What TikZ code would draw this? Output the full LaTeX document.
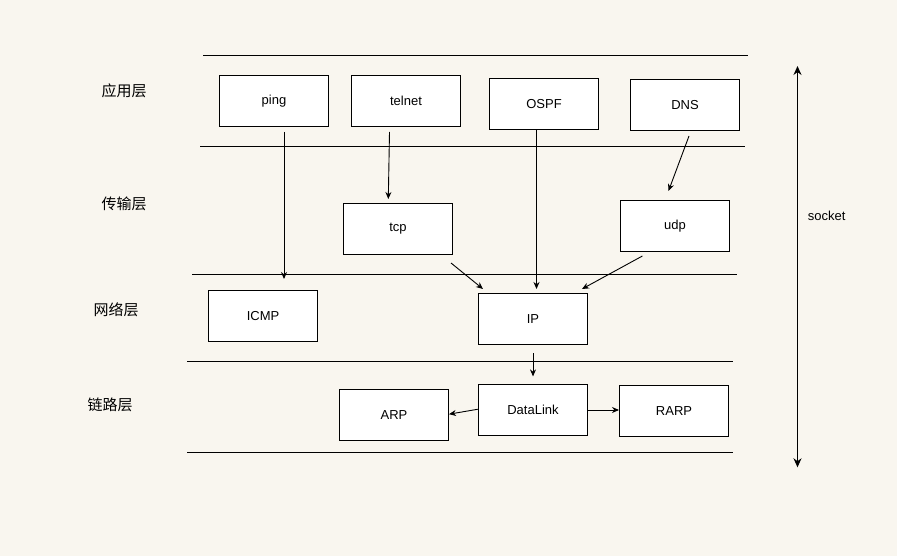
\documentclass[tikz,border=0pt]{standalone}
\usepackage{fontspec}
\setmainfont{Liberation Sans}
\newfontfamily\cjk{Noto Sans CJK SC}
\usetikzlibrary{arrows.meta}
\definecolor{bgcol}{HTML}{F9F6EF}
\tikzset{
  layerbox/.style={draw=black, fill=white, line width=1pt, minimum width=109pt, minimum height=51pt, inner sep=0pt, font=\fontsize{13pt}{15pt}\selectfont},
  layerlabel/.style={font=\cjk\fontsize{15pt}{17pt}\selectfont, inner sep=0pt},
  sepline/.style={line width=1pt},
  arr/.style={line width=0.9pt, -{Stealth[length=7pt,width=6pt]}},
  bigarr/.style={line width=1.3pt, {Stealth[length=9pt,width=8pt]}-{Stealth[length=9pt,width=8pt]}}
}
\begin{document}
\begin{tikzpicture}[x=1pt,y=-1pt]
\fill[bgcol] (0,0) rectangle (897,556);
\useasboundingbox (0,0) rectangle (897,556);
% layer separator lines
\draw[sepline] (203,55.5) -- (748,55.5);
\draw[sepline] (200,146.5) -- (745,146.5);
\draw[sepline] (192,274.5) -- (737,274.5);
\draw[sepline] (187,361.5) -- (733,361.5);
\draw[sepline] (187,452.5) -- (733,452.5);
% layer labels
\node[layerlabel] (l1) at (124,91) {应用层};
\node[layerlabel] (l2) at (124,204) {传输层};
\node[layerlabel] (l3) at (116,310) {网络层};
\node[layerlabel] (l4) at (110,405) {链路层};
% boxes
\node[layerbox] (ping) at (274,101) {ping};
\node[layerbox] (telnet) at (406,101) {telnet};
\node[layerbox] (ospf) at (544,104) {OSPF};
\node[layerbox] (dns) at (685,105) {DNS};
\node[layerbox] (tcp) at (398,229) {tcp};
\node[layerbox] (udp) at (675,226) {udp};
\node[layerbox] (icmp) at (263,316) {ICMP};
\node[layerbox] (ip) at (533,319) {IP};
\node[layerbox] (arp) at (394,415) {ARP};
\node[layerbox] (dl) at (533,410) {DataLink};
\node[layerbox] (rarp) at (674,411) {RARP};
% connectors
\draw[arr] ([xshift=10pt,yshift=-5pt]ping.south) -- ([xshift=21pt,yshift=11pt]icmp.north);
\draw[arr] ([xshift=-16.5pt,yshift=-5pt]telnet.south) -- ([xshift=-9.7pt,yshift=4pt]tcp.north);
\draw[arr] ([xshift=-7.5pt]ospf.south) -- ([xshift=3.5pt,yshift=4pt]ip.north);
\draw[arr] ([xshift=-2pt,yshift=-8pt]tcp.south east) -- ([xshift=5pt,yshift=4pt]ip.north west);
\draw[arr] ([xshift=22.4pt,yshift=-4pt]udp.south west) -- ([xshift=-6pt,yshift=4pt]ip.north east);
\draw[arr] ([xshift=4pt,yshift=-5pt]dns.south) -- ([xshift=-6.5pt,yshift=9pt]udp.north);
\draw[arr] ([yshift=-8.4pt]ip.south) -- ([yshift=7.6pt]dl.north);
\draw[arr] ([yshift=0.8pt]dl.west) -- ([yshift=0.8pt]arp.east);
\draw[arr] (dl.east) -- (rarp.west |- dl.east);
% socket
\coordinate (stop) at (797.5,66);
\coordinate (sbot) at (797.5,467.3);
\draw[bigarr] (stop) -- (sbot);
\node[font=\fontsize{13pt}{15pt}\selectfont, inner sep=0pt] (socket) at (826.7,215.7) {socket};
\end{tikzpicture}
\end{document}
